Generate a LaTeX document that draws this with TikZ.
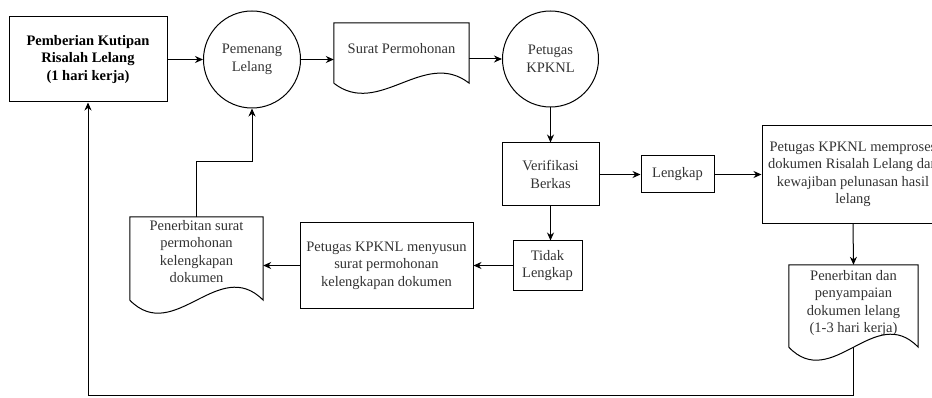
\documentclass[tikz,border=0pt]{standalone}
\usepackage{fontspec}
\setmainfont{Liberation Serif}
\usepackage{tikz}
\usetikzlibrary{shapes.geometric, arrows.meta, positioning, calc}

\tikzset{
  kotak/.style={draw, rectangle, line width=1pt, align=center, inner sep=2pt,
    font=\fontsize{14.5}{17.5}\selectfont, text=black!80},
  bulat/.style={draw, circle, line width=1pt, align=center, inner sep=0pt,
    font=\fontsize{14.5}{17.5}\selectfont, text=black!80},
  dok/.style={rectangle, inner sep=0pt},
  teks/.style={align=center, inner sep=0pt,
    font=\fontsize{14.5}{17.5}\selectfont, text=black!80},
  panah/.style={-{Stealth[length=8pt,width=7pt]}, line width=1pt}
}

\begin{document}
\begin{tikzpicture}[x=1pt, y=-1pt]
\useasboundingbox (0,0) rectangle (932,398);

% baris atas
\node[kotak, minimum width=158pt, minimum height=85pt, font=\fontsize{14.5}{17.5}\selectfont\bfseries, text=black]
  (kutipan) at (88,59.5) {Pemberian Kutipan\\Risalah Lelang\\(1 hari kerja)};
\node[bulat, minimum size=97pt] (pemenang) at (252,59.5) {Pemenang\\Lelang};
\node[dok, minimum width=135pt, minimum height=60pt] (surat) at (401.5,53) {};
\node[teks, below=20pt of surat.north] (surat-teks) {Surat Permohonan};
\node[bulat, minimum size=96pt] (petugas) at (550.5,59) {Petugas\\KPKNL};

% verifikasi
\node[kotak, minimum width=97pt, minimum height=63pt] (verif) at (550.5,174.5) {Verifikasi\\Berkas};
\node[kotak, minimum width=73pt, minimum height=37pt] (lengkap) at (677.5,174.5) {Lengkap};
\node[kotak, minimum width=182pt, minimum height=98pt] (proses) at (853,174.5)
  {Petugas KPKNL memproses\\dokumen Risalah Lelang dan\\kewajiban pelunasan hasil\\lelang};
\node[dok, minimum width=129pt, minimum height=82pt] (terbit) at (853.5,306) {};
\node[teks, below=5pt of terbit.north] (terbit-teks)
  {Penerbitan dan\\penyampaian\\dokumen lelang\\(1-3 hari kerja)};

% tidak lengkap
\node[kotak, minimum width=69pt, minimum height=49pt] (tidak) at (547.5,265.5) {Tidak\\Lengkap};
\node[kotak, minimum width=173pt, minimum height=85pt] (susun) at (386.5,265.5)
  {Petugas KPKNL menyusun\\surat permohonan\\kelengkapan dokumen};
\node[dok, minimum width=133pt, minimum height=83pt] (surat2) at (196.5,258.5) {};
\node[teks, below=3pt of surat2.north] (surat2-teks)
  {Penerbitan surat\\permohonan\\kelengkapan\\dokumen};

% bentuk dokumen
\foreach \n/\a in {surat/35, surat2/45, terbit/45}
  \draw[line width=1pt] (\n.south west) -- (\n.north west) -- (\n.north east) -- (\n.south east)
    .. controls ($(\n.south east)!0.333!(\n.south west)+(0,-\a)$)
       and ($(\n.south east)!0.667!(\n.south west)+(0,\a)$) .. (\n.south west);

\coordinate (belok) at (196.5,162);
\coordinate (bawah) at (88,395);

\draw[panah] (kutipan.east) -- (pemenang.west);
\draw[panah] (pemenang.east) -- (pemenang.east -| surat.west);
\draw[panah] (surat.east |- petugas.west) -- (petugas.west);
\draw[panah] (petugas.south) -- (verif.north);
\draw[panah] (verif.east) -- (lengkap.west);
\draw[panah] (lengkap.east) -- (proses.west);
\draw[panah] (proses.south) -- (terbit.north);
\draw[panah] (verif.south) -- (verif.south |- tidak.north);
\draw[panah] (tidak.west) -- (susun.east);
\draw[panah] (susun.west) -- (susun.west -| surat2.east);
\draw[panah] (surat2.north) -- (belok) -| (pemenang.south);
\draw[panah] (terbit.south) |- (bawah) -- (kutipan.south);

\end{tikzpicture}
\end{document}
